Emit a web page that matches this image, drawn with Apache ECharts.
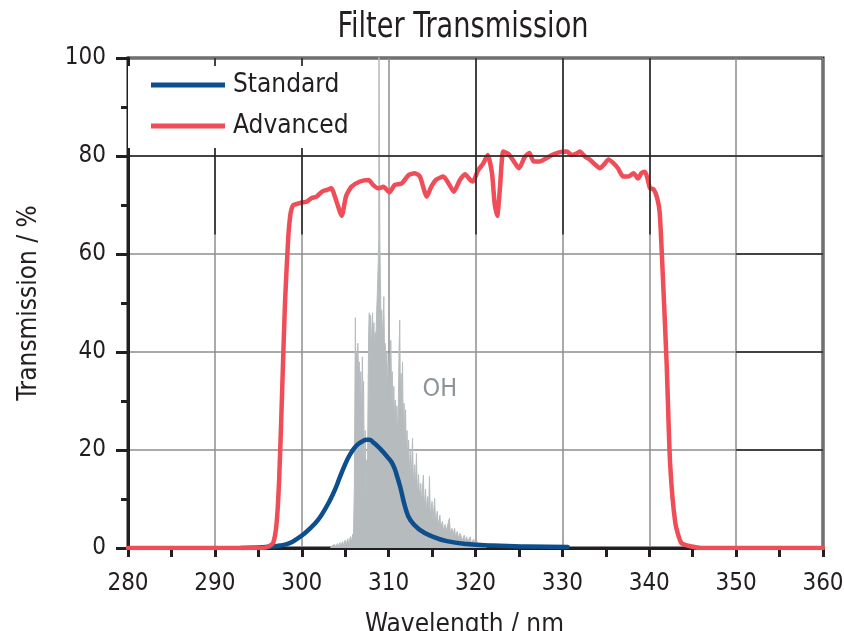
<!DOCTYPE html>
<html>
<head>
<meta charset="utf-8">
<script src="https://cdn.jsdelivr.net/npm/echarts@6/dist/echarts.min.js"></script>
<style>html,body{margin:0;padding:0;background:#fff}#c{width:844px;height:631px}</style>
</head>
<body>
<div id="c"></div>
<script>
// ---- data ----
const xTicks = [280, 290, 300, 310, 320, 330, 340, 350, 360];
const yTicks = [0, 20, 40, 60, 80, 100];

const advanced = [
  [280,0],[290,0],[295,0],[296,0.2],[296.7,1],[297.1,5],[297.4,14],[297.7,29.6],[298.07,50],[298.45,63.5],
  [298.65,67.5],[298.8,69],[299.03,70],[299.4,70.2],[300,70.5],[300.6,70.7],[301.1,71.4],[301.7,71.7],
  [302.3,72.7],[302.9,73.1],[303.4,73.4],[304.0,70.7],[304.6,67.8],[305.1,71.8],[305.7,73.7],[306.7,74.8],
  [307.7,75.1],[308.2,74.1],[308.8,73.4],[309.4,73.7],[310.1,72.6],[310.7,74.1],[311.5,74.4],[312.3,76.1],
  [313.0,76.5],[313.6,75.8],[314.4,71.7],[314.9,73.7],[315.5,75.2],[316.3,75.8],[316.9,74.4],[317.5,72.7],
  [318.2,75.1],[318.8,76.3],[319.4,75.1],[319.7,74.8],[320.3,77.1],[320.9,78.5],[321.4,80.2],[321.9,76.5],
  [322.2,70.3],[322.5,67.8],[322.8,73.1],[323.2,80.9],[323.8,80.4],[324.3,79.2],[325.0,77.5],[325.7,79.9],
  [326.2,80.6],[326.7,78.9],[327.4,78.9],[328.1,79.5],[328.8,80.2],[329.5,80.7],[330.5,80.9],[331.1,80.2],
  [331.6,80.5],[332.0,80.9],[332.6,79.9],[333.2,79.2],[333.8,78.2],[334.3,77.5],[334.9,78.5],[335.3,79.3],
  [335.9,78.5],[336.4,77.5],[337.0,75.8],[337.6,75.8],[338.2,76.5],[338.7,75.4],[339.1,76.5],[339.5,76.8],
  [339.8,75.4],[340.1,73.4],[340.5,73.2],[340.9,71.5],[341.2,68.5],[341.45,60],[342.0,37.8],[342.4,17.3],
  [343.0,5.1],[343.7,1],[344.9,0.3],[346,0],[360,0]
];

const standard = [
  [293,0],[295,0.1],[296.5,0.3],[297.5,0.5],[298.6,1],[299.4,1.8],[300.2,2.8],[300.9,3.9],[301.9,5.8],
  [302.7,8],[303.2,9.6],[303.8,11.8],[304.4,14.5],[305.0,17.1],[305.6,19.2],[306.3,20.9],[306.9,21.7],
  [307.5,22.1],[307.8,22.1],[308.2,21.6],[309.0,20.3],[309.9,18.5],[310.5,17],[311.0,14.5],[311.4,12],
  [311.9,8.4],[312.5,5.7],[313.6,3.7],[315.1,2.3],[316.7,1.4],[319,0.8],[322,0.5],[326,0.3],[330.6,0.2]
];

const ohSpectrum = [
  [303.3,0],[303.5,0.5],[303.6,0.1],[303.8,0.7],[303.9,0.2],[304.1,0.9],[304.2,0.3],[304.4,1.1],[304.5,0.4],
  [304.7,1.3],[304.8,0.5],[305.0,1.6],[305.1,0.6],[305.3,1.9],[305.4,0.7],[305.6,2.3],[305.7,1.0],
  [305.85,2.8],[305.95,2.0],
  [306.05,12],[306.12,32],[306.17,47],[306.22,36],[306.3,40],[306.38,32],[306.45,41.8],[306.55,34],
  [306.62,38],[306.7,30],[306.8,36],[306.88,27],[306.98,39],[307.05,30],[307.12,34],[307.2,14],[307.3,24],
  [307.38,10],[307.47,18],[307.55,12],[307.62,28],[307.7,44],[307.77,48],[307.85,42],[307.92,47.5],
  [308.0,40],[308.08,45],[308.15,48],[308.22,42],[308.3,46],[308.38,40],[308.45,44],[308.52,41],[308.6,47],
  [308.7,52],[308.8,58],[308.86,63],[308.89,105],[308.96,105],[308.99,63],[309.05,55],[309.12,47],
  [309.2,48.6],[309.28,42],[309.35,46],[309.45,51.3],[309.52,40],[309.6,41.8],[309.7,36],[309.8,40],
  [309.88,32],[309.96,38],[310.05,30],[310.15,36],[310.25,42.4],[310.33,34],[310.42,36],[310.5,28],
  [310.6,33],[310.68,26],[310.78,30.2],[310.86,24],[310.95,29],[311.05,22],[311.12,30],[311.2,40],
  [311.28,46.5],[311.35,32],[311.45,35.6],[311.52,26],[311.6,38],[311.68,24],[311.78,29.5],[311.86,20],
  [311.95,28.2],[312.03,18],[312.12,24],[312.2,16],[312.3,22],[312.4,15],[312.5,20],[312.6,14],
  [312.75,22.4],[312.85,13],[313.0,17],[313.1,12],[313.2,19.3],[313.3,11],[313.45,15],[313.55,10],
  [313.7,13.2],[313.8,9],[314.0,14.9],[314.1,8],[314.25,12],[314.35,7.5],[314.5,10.5],[314.6,7],
  [314.7,14.6],[314.8,6.5],[315.0,9.5],[315.1,5.5],[315.3,10.1],[315.4,5],[315.6,7.5],[315.7,4.5],
  [315.9,6.7],[316.0,4],[316.2,5.5],[316.3,3.5],[316.5,4.8],[316.6,3.2],[316.8,4.7],[317.0,6.1],[317.1,3],
  [317.3,4],[317.4,2.6],[317.6,4.0],[317.7,2.2],[317.9,3.4],[318.0,2],[318.2,3],[318.4,3.0],[318.5,1.6],
  [318.7,2.6],[318.8,1.4],[319.0,2.3],[319.1,1.2],[319.4,2.3],[319.5,1],[319.8,1.8],[319.9,0.8],
  [320.2,1.3],[320.3,0.6],[320.6,1.0],[320.7,0.4],[321.0,0.8],[321.3,0]
];

// darker grid segments seen in the reference
const darkVerticalX = [290, 300, 320, 330, 340];
const darkVerticalFrom = 64;
const darkHorizontalFull = [80];
const darkHorizontalRight = [20, 40, 60];
const darkHorizontalRightFrom = 350;

const ohLabelAt = [315.9, 32.3];

// ---- chart ----
const FONT = "'Liberation Sans Narrow', 'DejaVu Sans Condensed', sans-serif";
const INK = '#231f20';

const darkLines = [];
darkVerticalX.forEach(x => darkLines.push([{coord: [x, darkVerticalFrom]}, {coord: [x, 100]}]));
darkHorizontalFull.forEach(y => darkLines.push([{coord: [280, y]}, {coord: [360, y]}]));
darkHorizontalRight.forEach(y => darkLines.push([{coord: [darkHorizontalRightFrom, y]}, {coord: [360, y]}]));

const chart = echarts.init(document.getElementById('c'), null, {renderer: 'canvas'});
chart.setOption({
  animation: false,
  backgroundColor: '#fff',
  graphic: [{
    type: 'text', x: 463, y: 28, scaleX: 0.84, silent: true,
    style: {text: 'Filter Transmission', x: 0, y: 0, align: 'center', verticalAlign: 'middle',
            font: '36px ' + FONT, fill: INK}
  }],
  legend: {
    data: ['Standard', 'Advanced'],
    orient: 'vertical',
    left: 128, top: 66,
    padding: [4, 8, 7, 23],
    backgroundColor: '#fff',
    icon: 'rect',
    itemWidth: 74, itemHeight: 5,
    itemGap: 11,
    textStyle: {fontFamily: FONT, fontSize: 26, color: INK, lineHeight: 30, padding: [0, 0, 0, 3]},
    z: 10
  },
  grid: {
    left: 128, right: 21, top: 58, bottom: 83,
    outerBoundsMode: 'none', containLabel: false,
    show: true, borderColor: INK, borderWidth: 3
  },
  xAxis: {
    type: 'value', min: 280, max: 360, interval: 10,
    name: 'Wavelength / nm', nameLocation: 'middle', nameGap: 64,
    nameTextStyle: {fontFamily: FONT, fontSize: 26, color: INK, padding: [0, 22, 0, 0]},
    axisLine: {show: true, lineStyle: {color: INK, width: 3}},
    axisTick: {show: true, inside: false, length: 9, lineStyle: {color: INK, width: 3}},
    minorTick: {show: true, splitNumber: 2, length: 9, lineStyle: {color: INK, width: 3}},
    axisLabel: {fontFamily: FONT, fontSize: 24, color: INK, margin: 24},
    splitLine: {show: true, lineStyle: {color: '#8e8e8e', width: 1.5}}
  },
  yAxis: {
    type: 'value', min: 0, max: 100, interval: 20,
    name: 'Transmission / %', nameLocation: 'middle', nameGap: 86, nameRotate: 90,
    nameTextStyle: {fontFamily: FONT, fontSize: 26, color: INK},
    axisLine: {show: true, lineStyle: {color: INK, width: 3}},
    axisTick: {show: true, inside: false, length: 12, lineStyle: {color: INK, width: 3}},
    minorTick: {show: true, splitNumber: 2, length: 7, lineStyle: {color: INK, width: 3}},
    axisLabel: {fontFamily: FONT, fontSize: 24, color: INK, margin: 22},
    splitLine: {show: true, lineStyle: {color: '#8e8e8e', width: 1.5}}
  },
  series: [
    {
      name: 'grid-dark', type: 'line', data: [], silent: true, z: 1,
      markLine: {
        silent: true, symbol: ['none', 'none'], animation: false,
        label: {show: false},
        lineStyle: {color: INK, width: 1.5, type: 'solid'},
        data: darkLines
      }
    },
    {
      name: 'OH', type: 'line', data: ohSpectrum, symbol: 'none', silent: true, clip: true, z: 2,
      lineStyle: {color: '#b6bbbd', width: 1},
      areaStyle: {color: '#b6bbbd', opacity: 1},
      markPoint: {
        symbol: 'circle', symbolSize: 0, silent: true,
        label: {show: true, formatter: 'OH', fontFamily: FONT, fontSize: 25, color: '#8b9398', position: 'inside'},
        data: [{coord: ohLabelAt}]
      }
    },
    {
      name: 'Standard', type: 'line', data: standard, symbol: 'none', smooth: 0.5, z: 3,
      lineStyle: {color: '#0d4e8c', width: 4.5, cap: 'round', join: 'round'},
      itemStyle: {color: '#0d4e8c'}
    },
    {
      name: 'Advanced', type: 'line', data: advanced, symbol: 'none', smooth: 0.2, z: 4,
      lineStyle: {color: '#ef4d57', width: 4.5, cap: 'round', join: 'round'},
      itemStyle: {color: '#ef4d57'}
    }
  ]
});
</script>
</body>
</html>
